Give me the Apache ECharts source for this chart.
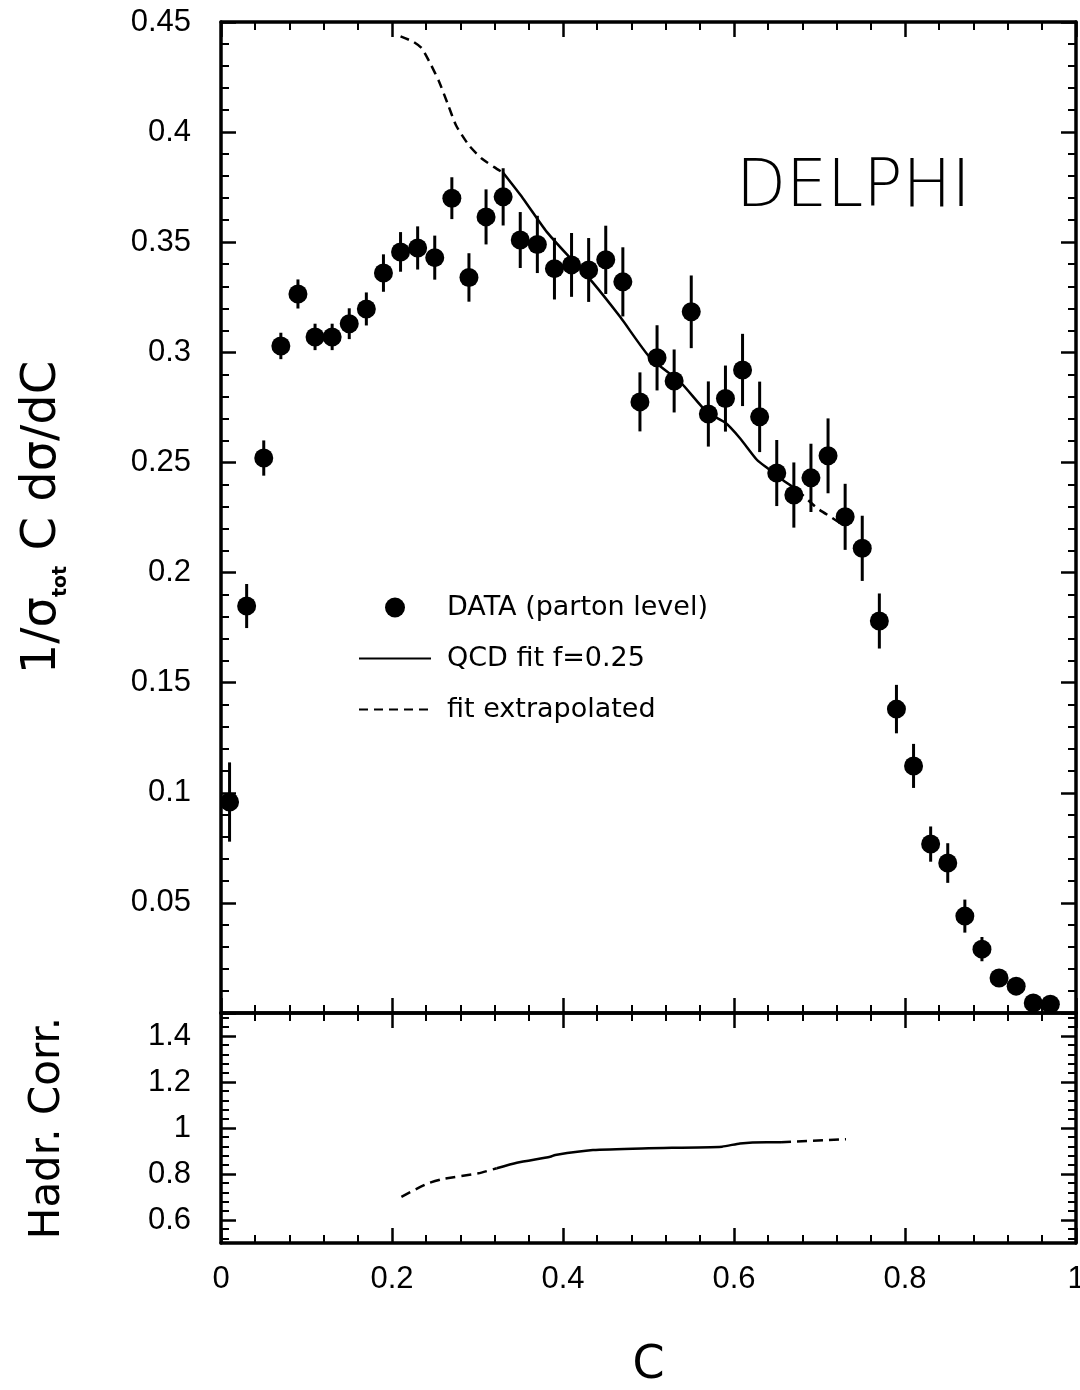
<!DOCTYPE html>
<html>
<head>
<meta charset="utf-8">
<script src="https://cdn.jsdelivr.net/npm/echarts@6/dist/echarts.min.js"></script>
<style>
  html, body { margin: 0; padding: 0; background: #fff; }
  #chart { width: 1080px; height: 1390px; }
</style>
</head>
<body>
<div id="chart"></div>
<script>
// C-parameter distribution, bin centres
const cBins = [0.01, 0.03, 0.05, 0.07, 0.09, 0.11, 0.13, 0.15, 0.17, 0.19,
               0.21, 0.23, 0.25, 0.27, 0.29, 0.31, 0.33, 0.35, 0.37, 0.39,
               0.41, 0.43, 0.45, 0.47, 0.49, 0.51, 0.53, 0.55, 0.57, 0.59,
               0.61, 0.63, 0.65, 0.67, 0.69, 0.71, 0.73, 0.75, 0.77, 0.79,
               0.81, 0.83, 0.85, 0.87, 0.89, 0.91, 0.93, 0.95, 0.97];
// 1/sigma_tot C dsigma/dC at parton level
const dataVals = [0.0958, 0.1848, 0.252, 0.3029, 0.3265, 0.307, 0.307, 0.313, 0.3197, 0.336,
                  0.3456, 0.3474, 0.343, 0.370, 0.334, 0.3615, 0.3706, 0.351, 0.349, 0.338,
                  0.3397, 0.3374, 0.342, 0.332, 0.2775, 0.2975, 0.287, 0.3184, 0.272, 0.279,
                  0.292, 0.2707, 0.2452, 0.2352, 0.243, 0.253, 0.2253, 0.211, 0.178, 0.138,
                  0.1122, 0.0767, 0.0681, 0.044, 0.029, 0.0159, 0.0122, 0.0045, 0.004];
// symmetric errors
const dataErrs = [0.018, 0.010, 0.008, 0.006, 0.0066, 0.006, 0.006, 0.007, 0.0075, 0.0085,
                  0.009, 0.0098, 0.010, 0.0095, 0.011, 0.0125, 0.013, 0.0127, 0.013, 0.014,
                  0.0145, 0.0145, 0.0155, 0.0157, 0.0134, 0.0148, 0.0143, 0.0165, 0.0148, 0.015,
                  0.0164, 0.016, 0.015, 0.0148, 0.0155, 0.017, 0.015, 0.0148, 0.0125, 0.011,
                  0.010, 0.008, 0.009, 0.0075, 0.0055, 0.004, 0.003, 0.002, 0.002];

// QCD fit, fitted range and extrapolations
const fitSolid = [[0.33, 0.3815], [0.353, 0.370], [0.381, 0.3547], [0.408, 0.343], [0.432, 0.333],
                  [0.467, 0.316], [0.502, 0.2975], [0.537, 0.2866], [0.568, 0.273], [0.59, 0.268],
                  [0.607, 0.261], [0.627, 0.2511], [0.639, 0.2475], [0.657, 0.242], [0.674, 0.2375]];
const fitExtraLow = [[0.21, 0.4435], [0.225, 0.441], [0.235, 0.438], [0.245, 0.431], [0.255, 0.423],
                     [0.265, 0.413], [0.275, 0.403], [0.29, 0.394], [0.305, 0.388], [0.32, 0.384],
                     [0.33, 0.3815]];
const fitExtraHigh = [[0.674, 0.2375], [0.697, 0.2293], [0.715, 0.2248], [0.73, 0.221]];

// hadronisation correction
const hadrSolid = [[0.3225, 0.825], [0.346, 0.849], [0.385, 0.875], [0.391, 0.883], [0.435, 0.904],
                   [0.50, 0.912], [0.586, 0.919], [0.607, 0.933], [0.638, 0.938], [0.655, 0.938]];
const hadrExtraLow = [[0.211, 0.701], [0.2406, 0.757], [0.2582, 0.777], [0.301, 0.803], [0.3225, 0.825]];
const hadrExtraHigh = [[0.655, 0.938], [0.731, 0.951]];

// tick labels
const xTickLabels = ['0', '0.2', '0.4', '0.6', '0.8', '1'];
const hadrMajorTicks = [0.6, 0.8, 1.0, 1.2, 1.4];

const hadrMinorTicks = [];
for (let v = 0.52; v < 1.5; v += 0.04) {
  const r = Math.round(v * 100) / 100;
  if (hadrMajorTicks.indexOf(r) < 0) hadrMinorTicks.push(r);
}

const INK = '#000';
const LABEL_FONT = 'Liberation Sans';
const TEXT_FONT = 'DejaVu Sans';

function xAxis(gridIndex, position, showLabels) {
  return {
    type: 'value', gridIndex, position, min: 0, max: 1, interval: 0.2,
    axisLine: { show: true, onZero: false, lineStyle: { color: INK, width: 3.5 } },
    axisTick: { show: true, inside: true, length: 15, lineStyle: { color: INK, width: 2.5 } },
    minorTick: { show: true, splitNumber: 5, length: 8, lineStyle: { color: INK, width: 2 } },
    splitLine: { show: false },
    axisLabel: {
      show: showLabels, margin: 21, color: INK, fontSize: 31, fontFamily: LABEL_FONT,
      formatter: v => xTickLabels[Math.round(v / 0.2)]
    }
  };
}

function yFrame(gridIndex, position, min, max, extra) {
  return Object.assign({
    type: 'value', gridIndex, position, min, max,
    axisLine: { show: true, onZero: false, lineStyle: { color: INK, width: 3.5 } },
    axisTick: { show: true, inside: true, length: 15, lineStyle: { color: INK, width: 2.5 } },
    splitLine: { show: false },
    axisLabel: { show: false }
  }, extra);
}

const option = {
  backgroundColor: '#fff',
  animation: false,
  title: {
    text: 'DELPHI', left: 731, top: 152,
    textStyle: { fontSize: 65, fontWeight: 200, fontFamily: TEXT_FONT, color: INK }
  },
  legend: {
    orient: 'vertical', left: 358, top: 594, padding: 0,
    itemWidth: 72, itemHeight: 20, itemGap: 24,
    data: [
      { name: 'DATA (parton level)', icon: 'circle' },
      { name: 'QCD fit f=0.25', itemStyle: { color: 'rgba(0,0,0,0)', borderWidth: 0 } },
      { name: 'fit extrapolated', itemStyle: { color: 'rgba(0,0,0,0)', borderWidth: 0 } }
    ],
    textStyle: { color: INK, fontSize: 27, fontFamily: TEXT_FONT, padding: [0, 0, 0, 11] },
    selectedMode: false
  },
  grid: [
    { left: 221, top: 22, width: 855, height: 991, containLabel: false, outerBoundsMode: 'none' },
    { left: 221, top: 1013, width: 855, height: 230, containLabel: false, outerBoundsMode: 'none' }
  ],
  xAxis: [
    xAxis(0, 'bottom', false),
    xAxis(0, 'top', false),
    Object.assign(xAxis(1, 'bottom', true), {
      name: 'C', nameLocation: 'middle', nameGap: 100,
      nameTextStyle: { fontSize: 46, fontFamily: TEXT_FONT, color: INK }
    }),
    xAxis(1, 'top', false)
  ],
  yAxis: [
    yFrame(0, 'left', 0, 0.45, {
      interval: 0.05,
      minorTick: { show: true, splitNumber: 5, length: 8, lineStyle: { color: INK, width: 2 } },
      axisLabel: {
        margin: 30, color: INK, fontSize: 31, fontFamily: LABEL_FONT,
        formatter: v => (v === 0 ? '' : String(+v.toFixed(2)))
      },
      name: '{m|1/σ}{s|tot}{m| C dσ/dC}', nameLocation: 'middle', nameGap: 150, nameRotate: 90,
      nameTextStyle: {
        color: INK,
        rich: {
          m: { fontSize: 48, fontFamily: TEXT_FONT, color: INK, lineHeight: 56 },
          s: { fontSize: 19, fontFamily: TEXT_FONT, fontWeight: 'bold', color: INK,
               lineHeight: 22, verticalAlign: 'bottom' }
        }
      }
    }),
    yFrame(0, 'right', 0, 0.45, {
      interval: 0.05,
      minorTick: { show: true, splitNumber: 5, length: 8, lineStyle: { color: INK, width: 2 } }
    }),
    yFrame(1, 'left', 0.5, 1.5, {
      axisTick: { show: true, inside: true, length: 15, customValues: hadrMajorTicks,
                  lineStyle: { color: INK, width: 2.5 } },
      axisLabel: { margin: 30, color: INK, fontSize: 31, fontFamily: LABEL_FONT,
                   customValues: hadrMajorTicks },
      name: 'Hadr. Corr.', nameLocation: 'middle', nameGap: 152, nameRotate: 90,
      nameTextStyle: { fontSize: 42, fontFamily: TEXT_FONT, color: INK }
    }),
    yFrame(1, 'right', 0.5, 1.5, {
      axisTick: { show: true, inside: true, length: 15, customValues: hadrMajorTicks,
                  lineStyle: { color: INK, width: 2.5 } }
    }),
    yFrame(1, 'left', 0.5, 1.5, {
      axisLine: { show: false, onZero: false },
      axisTick: { show: true, inside: true, length: 8, customValues: hadrMinorTicks,
                  lineStyle: { color: INK, width: 2 } }
    }),
    yFrame(1, 'right', 0.5, 1.5, {
      axisLine: { show: false, onZero: false },
      axisTick: { show: true, inside: true, length: 8, customValues: hadrMinorTicks,
                  lineStyle: { color: INK, width: 2 } }
    })
  ],
  series: [
    {
      name: 'errors', type: 'custom', xAxisIndex: 0, yAxisIndex: 0,
      data: cBins.map((c, i) => [c, dataVals[i] - dataErrs[i], dataVals[i] + dataErrs[i]]),
      renderItem: (params, api) => {
        const lo = api.coord([api.value(0), api.value(1)]);
        const hi = api.coord([api.value(0), api.value(2)]);
        return {
          type: 'line',
          shape: { x1: lo[0], y1: lo[1], x2: hi[0], y2: hi[1] },
          style: { stroke: INK, lineWidth: 3 }
        };
      },
      z: 3
    },
    {
      name: 'DATA (parton level)', type: 'scatter', xAxisIndex: 0, yAxisIndex: 0,
      data: cBins.map((c, i) => [c, dataVals[i]]),
      symbol: 'circle', symbolSize: 19, clip: false,
      itemStyle: { color: INK, opacity: 1 }, z: 4
    },
    {
      name: 'QCD fit f=0.25', type: 'line', xAxisIndex: 0, yAxisIndex: 0,
      data: fitSolid, symbol: 'none', smooth: 0.2, itemStyle: { color: INK },
      lineStyle: { color: INK, width: 2.5 }, z: 2
    },
    {
      name: 'fit extrapolated', type: 'line', xAxisIndex: 0, yAxisIndex: 0,
      data: fitExtraLow, symbol: 'none', smooth: 0.2, itemStyle: { color: INK },
      lineStyle: { color: INK, width: 2.5, type: [9, 6] }, z: 2
    },
    {
      name: 'fit extrapolated', type: 'line', xAxisIndex: 0, yAxisIndex: 0,
      data: fitExtraHigh, symbol: 'none', smooth: 0.2, itemStyle: { color: INK },
      lineStyle: { color: INK, width: 2.5, type: [9, 6] }, z: 2
    },
    {
      name: 'QCD fit f=0.25', type: 'line', xAxisIndex: 2, yAxisIndex: 2,
      data: hadrSolid, symbol: 'none', smooth: 0.2, itemStyle: { color: INK },
      lineStyle: { color: INK, width: 2.5 }
    },
    {
      name: 'fit extrapolated', type: 'line', xAxisIndex: 2, yAxisIndex: 2,
      data: hadrExtraLow, symbol: 'none', smooth: 0.2, itemStyle: { color: INK },
      lineStyle: { color: INK, width: 2.5, type: [10, 6] }
    },
    {
      name: 'fit extrapolated', type: 'line', xAxisIndex: 2, yAxisIndex: 2,
      data: hadrExtraHigh, symbol: 'none', itemStyle: { color: INK },
      lineStyle: { color: INK, width: 2.5, type: [10, 6] }
    }
  ]
};

const chart = echarts.init(document.getElementById('chart'), null, { renderer: 'canvas' });
chart.setOption(option);
</script>
</body>
</html>
